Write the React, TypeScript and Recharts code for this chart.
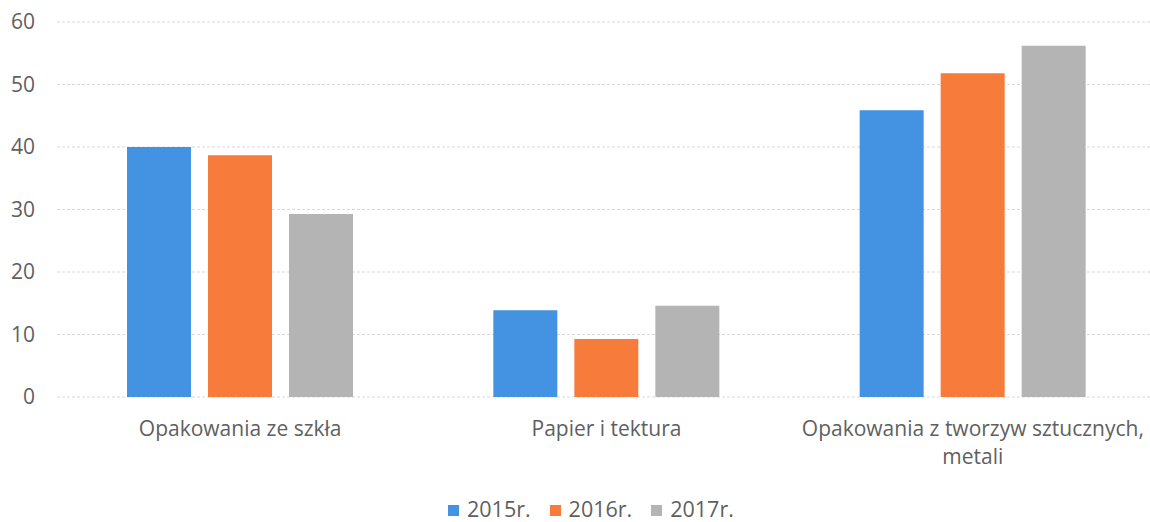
import React from "react";
import { BarChart, Bar, XAxis, YAxis, CartesianGrid, Legend } from "recharts";

const categories = [
  "Opakowania ze szkła",
  "Papier i tektura",
  "Opakowania z tworzyw sztucznych, metali",
];
const values2015 = [40, 13.9, 45.9];
const values2016 = [38.7, 9.3, 51.8];
const values2017 = [29.3, 14.6, 56.2];
const yTicks = [0, 10, 20, 30, 40, 50, 60];

const data = categories.map((name, i) => ({
  name,
  y2015: values2015[i],
  y2016: values2016[i],
  y2017: values2017[i],
}));

const FONT = "'Open Sans', sans-serif";
const TEXT = "#5f5f5f";

const CatTick = (props: any) => {
  const { x, y, payload } = props;
  const label: string = payload.value;
  const idx = label.indexOf(", ");
  const lines = idx >= 0 ? [label.slice(0, idx + 1), label.slice(idx + 2)] : [label];
  return (
    <text x={x} y={y} textAnchor="middle" fill={TEXT} fontFamily={FONT} fontSize={21}>
      {lines.map((l, i) => (
        <tspan key={i} x={x} dy={i === 0 ? "0.71em" : 28}>
          {l}
        </tspan>
      ))}
    </text>
  );
};

const LegendContent = (props: any) => {
  const payload = props.payload || [];
  return (
    <div
      style={{
        display: "flex",
        justifyContent: "flex-start",
        alignItems: "center",
        paddingLeft: 448,
        fontFamily: FONT,
        fontSize: 21.5,
        lineHeight: "24px",
        height: 24,
        color: TEXT,
      }}
    >
      {payload.map((p: any, i: number) => (
        <div key={i} style={{ display: "flex", alignItems: "center", marginRight: i < payload.length - 1 ? 19 : 0 }}>
          <span style={{ display: "inline-block", width: 11, height: 11, background: p.color, marginRight: 8, marginTop: 2 }} />
          <span>{p.value}</span>
        </div>
      ))}
    </div>
  );
};

export default function App() {
  return (
    <div style={{ position: "absolute", left: 0, top: 0, width: 1150, height: 522, background: "#fff", overflow: "hidden" }}>
      <BarChart
        width={1156}
        height={522}
        data={data}
        margin={{ top: 22, right: 0, left: 0, bottom: 19 }}
        barSize={64}
        barGap={17}
      >
        <CartesianGrid vertical={false} stroke="#d9d9d9" strokeDasharray="3 2" />
        <XAxis
          dataKey="name"
          axisLine={false}
          tickLine={false}
          tickSize={0}
          tickMargin={24}
          height={82}
          interval={0}
          tick={<CatTick />}
        />
        <YAxis
          domain={[0, 60]}
          ticks={yTicks}
          axisLine={false}
          tickLine={false}
          tickSize={0}
          tickMargin={22}
          width={57}
          tick={{ fill: TEXT, fontFamily: FONT, fontSize: 21 }}
        />
        <Legend
          verticalAlign="bottom"
          content={<LegendContent />}
          wrapperStyle={{ position: "absolute", top: 497, left: 0, bottom: "auto", width: 1150, height: 24 }}
        />
        <Bar dataKey="y2015" name="2015r." fill="#4493E3" isAnimationActive={false} />
        <Bar dataKey="y2016" name="2016r." fill="#F77B3A" isAnimationActive={false} />
        <Bar dataKey="y2017" name="2017r." fill="#B4B4B4" isAnimationActive={false} />
      </BarChart>
    </div>
  );
}
